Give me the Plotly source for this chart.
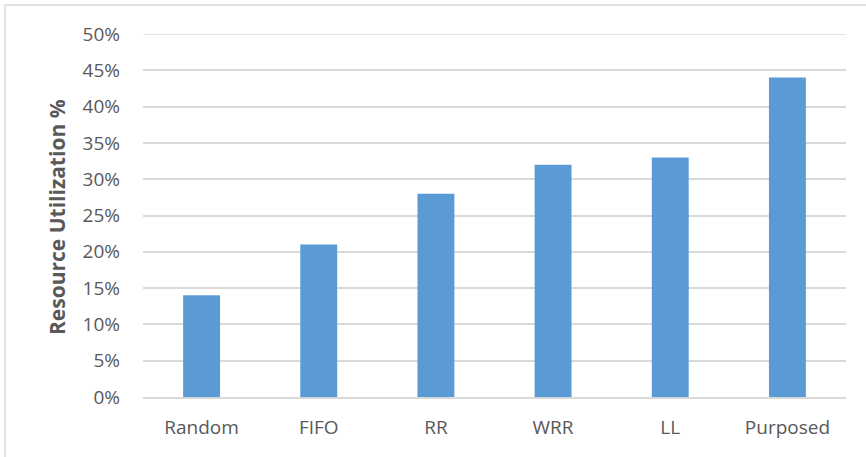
import plotly.graph_objects as go

categories = ["Random", "FIFO", "RR", "WRR", "LL", "Purposed"]
values = [0.14, 0.21, 0.28, 0.32, 0.33, 0.44]
tick_vals = [0, 0.05, 0.10, 0.15, 0.20, 0.25, 0.30, 0.35, 0.40, 0.45, 0.50]
tick_text = ["0%", "5%", "10%", "15%", "20%", "25%", "30%", "35%", "40%", "45%", "50%"]
y_title = "Resource Utilization %"

W, H = 866, 457
L, R, T, B = 143, 20, 34, 60
pw, ph = W - L - R, H - T - B

def px(x):
    return (x - L) / pw

def py(y):
    return (H - B - y) / ph

fig = go.Figure(go.Bar(x=categories, y=values, marker_color="#5B9BD5",
                       marker_line_width=0, width=0.315))

fig.update_layout(
    width=W, height=H,
    margin=dict(l=L, r=R, t=T, b=B),
    paper_bgcolor="white", plot_bgcolor="white",
    font=dict(family="Open Sans, Liberation Sans, sans-serif", size=19, color="#595959"),
    showlegend=False,
    xaxis=dict(showgrid=False, showline=True, linecolor="#d9d9d9", linewidth=1.5,
               ticks="", tickfont=dict(size=19), ticklabelstandoff=12),
    yaxis=dict(range=[0, 0.5], tickvals=tick_vals, ticktext=tick_text,
               showgrid=True, gridcolor="#d9d9d9", gridwidth=1.5,
               zeroline=False, ticks="", ticklen=0, tickfont=dict(size=19),
               ticklabelstandoff=22),
    annotations=[dict(text="<b>" + y_title + "</b>", textangle=-90,
                      x=px(57), y=py(217), xref="paper", yref="paper",
                      xanchor="center", yanchor="middle",
                      showarrow=False, font=dict(size=21, color="#595959"))],
    shapes=[
        dict(type="line", xref="paper", yref="y", x0=0, x1=1, y0=0.5, y1=0.5,
             line=dict(color="#d9d9d9", width=1.5), layer="below"),
        dict(type="line", xref="paper", yref="paper", x0=px(5), x1=px(866), y0=py(5), y1=py(5),
             line=dict(color="#d9d9d9", width=1.5)),
        dict(type="line", xref="paper", yref="paper", x0=px(5), x1=px(5), y0=py(5), y1=py(457),
             line=dict(color="#d9d9d9", width=1.5)),
    ],
)

fig.write_html("out.html")
